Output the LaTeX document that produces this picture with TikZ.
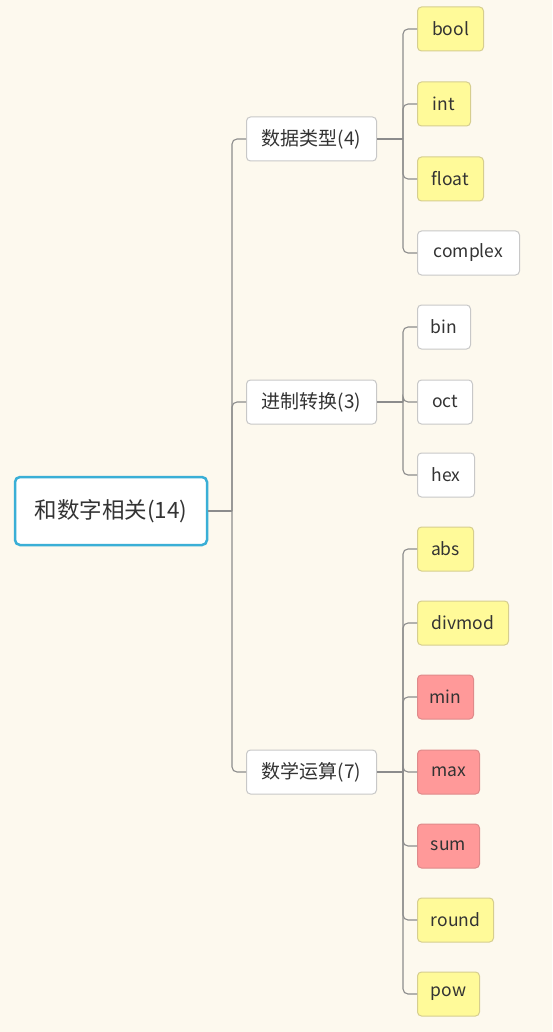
\documentclass[tikz,border=0pt]{standalone}
\usepackage{fontspec}
\setmainfont{Noto Sans CJK SC}
\definecolor{bgc}{HTML}{FDF9EE}
\definecolor{yfill}{HTML}{FFFA99}
\definecolor{yline}{HTML}{D6CE8F}
\definecolor{rfill}{HTML}{FF9999}
\definecolor{rline}{HTML}{DF8A8A}
\definecolor{wline}{HTML}{C8C8C8}
\definecolor{rootline}{HTML}{3AAFD6}
\definecolor{connc}{HTML}{8C8C8C}
\definecolor{txt}{HTML}{333333}
\begin{document}
\begin{tikzpicture}[x=1pt,y=-1pt,
  box/.style={rounded corners=4pt, line width=1pt, anchor=west, minimum height=44pt,
    inner xsep=0pt, inner ysep=0pt, text=txt, font=\fontsize{17.5}{20}\selectfont},
  leafy/.style={box, fill=yfill, draw=yline},
  leafr/.style={box, fill=rfill, draw=rline},
  leafw/.style={box, fill=white, draw=wline},
  midbox/.style={box, fill=white, draw=wline, minimum width=130pt, font=\fontsize{19}{22}\selectfont},
  rootbox/.style={rounded corners=5pt, line width=2.5pt, draw=rootline, fill=white,
    minimum width=192pt, minimum height=68pt, text=txt, font=\fontsize{22.5}{26}\selectfont},
  conn/.style={draw=connc, line width=1.1pt, rounded corners=5pt}]
\fill[bgc] (0,0) rectangle (552,1032);
\useasboundingbox (0,0) rectangle (552,1032);

\node[rootbox] (root) at (111,511) {和数字相关(14)};

\node[midbox] (m1) at (246,139) {数据类型(4)};
\node[midbox] (m2) at (246,402) {进制转换(3)};
\node[midbox] (m3) at (246,772) {数学运算(7)};

\coordinate (rj) at (232,511);
\coordinate (j1) at (403,139);
\coordinate (j2) at (403,402);
\coordinate (j3) at (403,772);

\node[leafy, minimum width=66pt] (bool) at (417,29) {bool};
\node[leafy, minimum width=53pt] (int) at (417,104) {int};
\node[leafy, minimum width=66pt] (float) at (417,179) {float};
\node[leafw, minimum width=102pt] (complex) at (417,253) {complex};

\node[leafw, minimum width=53pt] (bin) at (417,327) {bin};
\node[leafw, minimum width=55pt] (oct) at (417,402) {oct};
\node[leafw, minimum width=57pt] (hex) at (417,475) {hex};

\node[leafy, minimum width=56pt] (abs) at (417,549) {abs};
\node[leafy, minimum width=91pt] (divmod) at (417,623) {divmod};
\node[leafr, minimum width=56pt] (min) at (417,697) {min};
\node[leafr, minimum width=62pt] (max) at (417,772) {max};
\node[leafr, minimum width=62pt] (sum) at (417,846) {sum};
\node[leafy, minimum width=76pt] (round) at (417,920) {round};
\node[leafy, minimum width=62pt] (pow) at (417,994) {pow};

\draw[conn] (root.east) -- (rj);
\foreach \m in {m1,m2,m3} \draw[conn] (rj) |- (\m.west);
\draw[conn] (m1.east) -- (j1);
\draw[conn] (m2.east) -- (j2);
\draw[conn] (m3.east) -- (j3);
\foreach \l in {bool,int,float,complex} \draw[conn] (j1) |- (\l.west);
\foreach \l in {bin,oct,hex} \draw[conn] (j2) |- (\l.west);
\foreach \l in {abs,divmod,min,max,sum,round,pow} \draw[conn] (j3) |- (\l.west);
\end{tikzpicture}
\end{document}
